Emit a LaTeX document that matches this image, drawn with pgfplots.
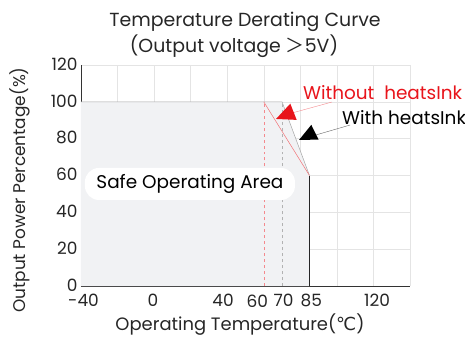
\documentclass[border=0pt]{standalone}
\usepackage{fontspec}
\setmainfont{Poppins}
\newfontfamily\dejavu{DejaVu Sans}
\newfontfamily\cjk{Noto Sans CJK SC}
\usepackage{pgfplots}
\pgfplotsset{compat=1.18}
\definecolor{gridc}{HTML}{E4E4E4}
\definecolor{fillc}{HTML}{F1F2F4}
\definecolor{redc}{HTML}{E8141B}
\begin{document}
\begin{tikzpicture}[x=1bp,y=1bp]
\useasboundingbox (-81,-54) rectangle (384,286);
\begin{axis}[
  scale only axis, width=329bp, height=221bp,
  at={(0,0)}, anchor=south west,
  xmin=-40, xmax=140, ymin=0, ymax=120,
  axis x line*=bottom, axis y line*=left,
  axis line style={black!80, line width=0.9pt},
  xtick={-40,-20,...,140}, xticklabels={},
  extra x ticks={-38.6,-0.6,37.7,56.5,70.8,86,122},
  extra x tick labels={-40,0,40,60,70,85,120},
  extra x tick style={grid=none, tick label style={yshift=-5bp}},
  ytick={0,20,...,120},
  major tick length=0pt,
  grid=major, grid style={gridc, line width=0.5pt},
  tick label style={font=\fontsize{17}{17}\selectfont, text=black!85},
  yticklabel style={yshift=1bp},
  /pgf/number format/assume math mode=true,
  clip=false,
]
\addplot[fill=fillc, draw=none] coordinates {(-40,0) (-40,100) (70,100) (85,60) (85,0)} -- cycle;
\addplot[gray!70, line width=0.5pt] coordinates {(-40,100) (70,100) (85,60)};
\addplot[redc!60, line width=0.5pt] coordinates {(60,100) (85,60)};
\addplot[redc!50, dashed, line width=0.5pt] coordinates {(60,0) (60,100)};
\addplot[gray!60, dashed, line width=0.5pt] coordinates {(70,0) (70,100)};
\addplot[black!85, line width=0.9pt] coordinates {(85,0) (85,60)};
% arrows
\draw[redc!50, line width=0.4pt] (axis cs:97.3,99.9) -- (axis cs:72,93);
\fill[redc] (axis cs:66.7,90.7) -- (axis cs:74.5,99.0) -- (axis cs:78.0,90.2) -- cycle;
\draw[black!60, line width=0.4pt] (axis cs:107.2,87.4) -- (axis cs:85,81);
\fill[black] (axis cs:79.3,79.3) -- (axis cs:86.0,87.5) -- (axis cs:90.0,79.5) -- cycle;
\node[anchor=west, text=redc, inner sep=0pt, font=\fontsize{18.5}{18.5}\selectfont] at (axis cs:81.4,104.8) {Without\ \ heatsInk};
\node[anchor=west, text=black, inner sep=0pt, font=\fontsize{18.5}{18.5}\selectfont] at (axis cs:102.8,91.2) {With heatsInk};
\node[fill=white, rounded corners=14bp, minimum width=210bp, minimum height=32bp, inner sep=0pt, font=\fontsize{18.5}{18.5}\selectfont] at (axis cs:19.6,55.4) {Safe Operating Area};
\end{axis}
\node[font=\fontsize{19}{19}\selectfont, text=black!85] at (164,264) {Temperature Derating Curve};
\node[font=\fontsize{19}{19}\selectfont, text=black!85] at (153,240) {(Output voltage {\cjk ＞}5V)};
\node[font=\fontsize{18}{18}\selectfont, text=black!85] at (159,-39) {Operating Temperature({\dejavu ℃})};
\node[font=\fontsize{17}{17}\selectfont, text=black!85, rotate=90] at (-61,96) {Output Power Percentage(\%)};
\end{tikzpicture}
\end{document}
